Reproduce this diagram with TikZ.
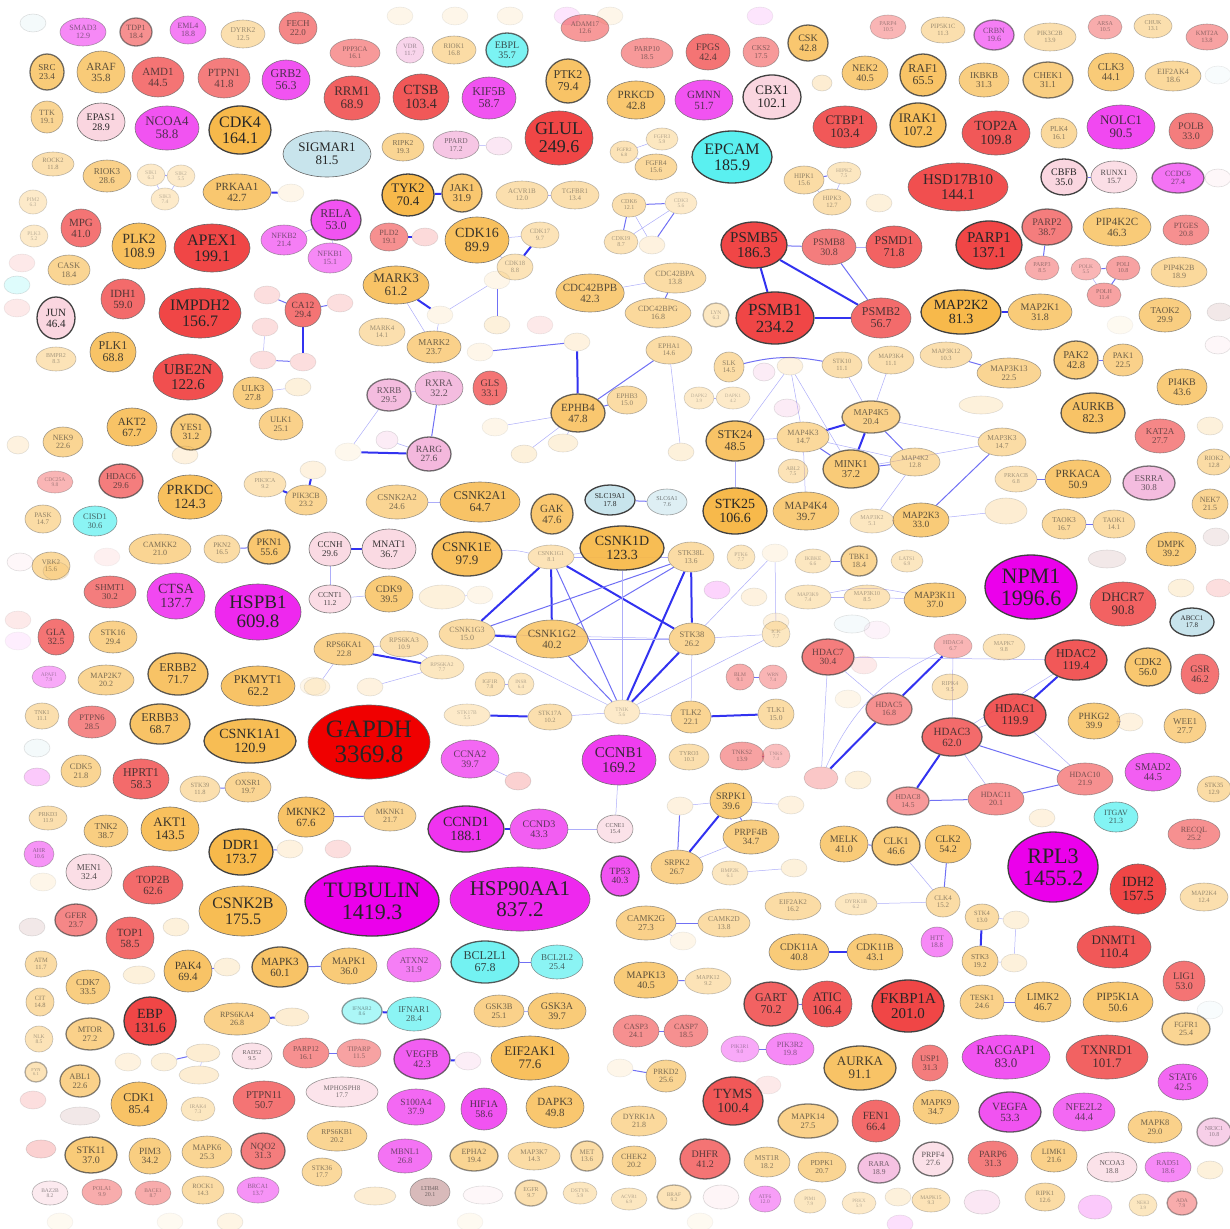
\documentclass[tikz,border=0pt]{standalone}
\usepackage{fontspec}
\setmainfont{Liberation Serif}
\usetikzlibrary{shapes.geometric, backgrounds}

\definecolor{kinC}{RGB}{247,185,75}
\definecolor{redC}{RGB}{240,70,70}
\definecolor{gapC}{RGB}{240,0,0}
\definecolor{magC}{RGB}{238,40,238}
\definecolor{hubC}{RGB}{235,0,235}
\definecolor{cyaC}{RGB}{90,240,240}
\definecolor{lbC}{RGB}{200,228,236}
\definecolor{plC}{RGB}{250,214,224}
\definecolor{pkC}{RGB}{240,160,210}
\definecolor{brC}{RGB}{190,140,140}
\definecolor{edgeC}{RGB}{50,50,240}

\tikzset{
  gene/.style={ellipse, draw=black!60, line width=0.6pt, inner xsep=-3pt, inner ysep=-1pt, align=center, text=black!85},
  g/.style n args={3}{minimum width=#1, minimum height=#2, font=\fontsize{#3}{#3}\selectfont},
  kin/.style={gene, fill=kinC},
  rd/.style={gene, fill=redC},
  mg/.style={gene, fill=magC},
  cy/.style={gene, fill=cyaC},
  lb/.style={gene, fill=lbC},
  pl/.style={gene, fill=plC},
  pk/.style={gene, fill=pkC},
  br/.style={gene, fill=brC},
  bd/.style={draw=black!75, line width=1.3pt},
  op/.style={opacity=#1},
  fnt/.style={minimum width=26, minimum height=18, opacity=.12},
  e1/.style={draw=edgeC!40, line width=0.5pt},
  e2/.style={draw=edgeC!70, line width=1pt},
  e3/.style={draw=edgeC, line width=2pt}
}

\begin{document}
\begin{tikzpicture}[x=1pt, y=-1pt]
  \useasboundingbox (0,0) rectangle (1229,1229);

  % faint top row
  \node[lb, fnt, op=.2] (f1) at (33,23) {};
  \node[kin, fnt] (f2) at (400,16) {};
  \node[kin, fnt] (f3) at (455,16) {};
  \node[kin, fnt] (f4) at (510,16) {};
  \node[mg, fnt] (f5) at (567,16) {};
  \node[kin, fnt] (f6) at (610,16) {};
  \node[mg, fnt] (f7) at (760,16) {};

  % top left block
  \node[mg, g={46}{28}{8}, op=.55] (SMAD3) at (83,32) {SMAD3\\12.9};
  \node[rd, g={32}{28}{8}, op=.6, bd] (TDP1) at (136,32) {TDP1\\18.4};
  \node[mg, g={36}{28}{8}, op=.6] (EML4) at (188,30) {EML4\\18.8};
  \node[kin, g={44}{28}{7.5}, op=.45] (DYRK2) at (243,34) {DYRK2\\12.5};
  \node[rd, g={38}{32}{9}, op=.65] (FECH) at (298,28) {FECH\\22.0};
  \node[kin, g={34}{36}{9}, op=.75, bd] (SRC) at (47,72) {SRC\\23.4};
  \node[kin, g={48}{42}{11}, op=.75] (ARAF) at (101,72) {ARAF\\35.8};
  \node[rd, g={52}{40}{11}, op=.75] (AMD1) at (158,77) {AMD1\\44.5};
  \node[rd, g={52}{40}{11}, op=.7] (PTPN1) at (224,78) {PTPN1\\41.8};
  \node[mg, g={48}{40}{12}, op=.8] (GRB2) at (286,80) {GRB2\\56.3};
  \node[kin, g={32}{32}{8}, op=.6] (TTK) at (47,117) {TTK\\19.1};
  \node[pl, g={48}{38}{10}] (EPAS1) at (101,122) {EPAS1\\28.9};
  \node[mg, g={64}{44}{13}, op=.8] (NCOA4) at (167,128) {NCOA4\\58.8};
  \node[kin, g={62}{48}{16}, bd] (CDK4) at (240,130) {CDK4\\164.1};
  \node[lb, g={88}{46}{13}] (SIGMAR1) at (327,154) {SIGMAR1\\81.5};
  \node[kin, g={42}{24}{6.5}, op=.45] (ROCK2) at (53,164) {ROCK2\\11.8};
  \node[kin, g={48}{32}{9}, op=.65] (RIOK3) at (107,176) {RIOK3\\28.6};
  \node[kin, g={28}{22}{5.5}, op=.3] (SIK1) at (151,175) {SIK1\\6.3};
  \node[kin, g={28}{22}{5.5}, op=.3] (SIK2) at (181,176) {SIK2\\5.5};
  \node[kin, g={28}{22}{5.5}, op=.3] (SIK3) at (165,199) {SIK3\\7.4};
  \node[kin, g={68}{36}{11}, op=.8] (PRKAA1) at (237,192) {PRKAA1\\42.7};
  \node[kin, fnt] (f8) at (291,193) {};
  \node[kin, g={28}{24}{5.5}, op=.3] (PIM2) at (33,202) {PIM2\\6.3};
  \node[rd, g={40}{38}{11}, op=.75] (MPG) at (81,228) {MPG\\41.0};
  \node[kin, g={28}{22}{5.5}, op=.3] (PLK3) at (34,236) {PLK3\\5.2};
  \node[kin, g={54}{46}{14}, op=.9] (PLK2) at (139,246) {PLK2\\108.9};
  \node[rd, g={76}{48}{16}] (APEX1) at (212,248) {APEX1\\199.1};
  \node[mg, g={46}{30}{8}, op=.6] (NFKB2) at (284,240) {NFKB2\\21.4};
  \node[kin, g={42}{30}{8.5}, op=.6] (CASK) at (69,270) {CASK\\18.4};
  \node[rd, fnt] (f9) at (22,263) {};
  \node[cy, fnt, op=.2] (f10) at (17,285) {};
  \node[rd, fnt] (f11) at (17,308) {};
  \node[rd, g={44}{40}{11}, op=.8] (IDH1) at (123,299) {IDH1\\59.0};
  \node[rd, g={82}{50}{16}] (IMPDH2) at (200,313) {IMPDH2\\156.7};
  \node[pl, g={38}{42}{11}, bd] (JUN) at (56,318) {JUN\\46.4};
  \node[kin, g={46}{40}{12}, op=.85] (PLK1) at (113,352) {PLK1\\68.8};
  \node[kin, g={40}{24}{6}, op=.4] (BMPR2) at (56,359) {BMPR2\\8.3};
  \node[rd, g={70}{46}{15}, op=.95] (UBE2N) at (188,377) {UBE2N\\122.6};
  \node[kin, g={40}{32}{9}, op=.7] (ULK3) at (253,393) {ULK3\\27.8};
  \node[kin, fnt, op=.2] (f12) at (298,387) {};

  % top middle block
  \node[rd, g={48}{27}{7}, op=.55] (ADAM17) at (585,28) {ADAM17\\12.6};
  \node[rd, g={50}{28}{7}, op=.55] (PPP3CA) at (355,53) {PPP3CA\\16.1};
  \node[pk, g={28}{26}{6.5}, op=.45] (VDR) at (410,50) {VDR\\11.7};
  \node[kin, g={44}{28}{7}, op=.5] (RIOK1) at (454,50) {RIOK1\\16.8};
  \node[cy, g={42}{34}{10}, op=.8, bd] (EBPL) at (507,50) {EBPL\\35.7};
  \node[rd, g={56}{44}{13}, op=.85] (RRM1) at (352,98) {RRM1\\68.9};
  \node[rd, g={56}{46}{14}, op=.9] (CTSB) at (421,97) {CTSB\\103.4};
  \node[mg, g={54}{42}{12}, op=.8] (KIF5B) at (489,98) {KIF5B\\58.7};
  \node[kin, g={44}{44}{12}, op=.85, bd] (PTK2) at (568,81) {PTK2\\79.4};
  \node[rd, g={68}{54}{18}] (GLUL) at (559,138) {GLUL\\249.6};
  \node[kin, g={42}{28}{7.5}, op=.6] (RIPK2) at (403,147) {RIPK2\\19.3};
  \node[pk, g={46}{28}{7.5}, op=.6] (PPARD) at (456,145) {PPARD\\17.2};
  \node[pk, fnt, op=.25] (f13) at (499,146) {};
  \node[kin, g={52}{42}{13}, bd] (TYK2) at (408,195) {TYK2\\70.4};
  \node[kin, g={40}{38}{10.5}, op=.8, bd] (JAK1) at (462,193) {JAK1\\31.9};
  \node[kin, g={52}{28}{7}, op=.45] (ACVR1B) at (522,195) {ACVR1B\\12.0};
  \node[kin, g={48}{28}{7}, op=.45] (TGFBR1) at (575,195) {TGFBR1\\13.4};
  \node[mg, g={50}{40}{12}, op=.8, bd] (RELA) at (336,220) {RELA\\53.0};
  \node[mg, g={44}{30}{8}, op=.55] (NFKB1) at (330,258) {NFKB1\\15.1};
  \node[rd, g={38}{28}{8}, op=.6] (PLD2) at (389,237) {PLD2\\19.1};
  \node[rd, fnt, op=.2] (f14) at (425,237) {};
  \node[kin, g={64}{46}{14}, op=.9] (CDK16) at (477,240) {CDK16\\89.9};
  \node[kin, g={38}{26}{6.5}, op=.4] (CDK17) at (540,235) {CDK17\\9.7};
  \node[kin, g={36}{26}{6.5}, op=.4] (CDK18) at (515,267) {CDK18\\8.8};
  \node[kin, g={66}{38}{13}, op=.85] (MARK3) at (396,285) {MARK3\\61.2};
  \node[kin, fnt] (f15) at (497,280) {};
  \node[rd, g={36}{34}{9.5}, op=.75] (CA12) at (303,310) {CA12\\29.4};
  \node[rd, fnt, op=.18] (f16) at (340,303) {};
  \node[rd, fnt, op=.18] (f17) at (267,295) {};
  \node[rd, fnt, op=.18] (f18) at (265,327) {};
  \node[rd, fnt, op=.18] (f19) at (263,360) {};
  \node[rd, fnt, op=.18] (f20) at (303,362) {};
  \node[kin, fnt] (f21) at (440,315) {};
  \node[kin, fnt, op=.2] (f22) at (497,325) {};
  \node[rd, fnt] (f23) at (540,325) {};
  \node[kin, g={46}{28}{7}, op=.45] (MARK4) at (382,332) {MARK4\\14.1};
  \node[kin, g={54}{32}{9}, op=.65] (MARK2) at (434,347) {MARK2\\23.7};
  \node[kin, g={68}{38}{11}, op=.75] (CDC42BPB) at (590,293) {CDC42BPB\\42.3};
  \node[kin, fnt, op=.18] (f24) at (577,342) {};
  \node[kin, fnt] (f25) at (480,352) {};
  \node[pk, g={44}{32}{9}, op=.7, bd] (RXRB) at (389,395) {RXRB\\29.5};
  \node[pk, g={48}{34}{10}, op=.7] (RXRA) at (439,388) {RXRA\\32.2};
  \node[rd, g={34}{34}{10}, op=.75] (GLS) at (490,388) {GLS\\33.1};
  \node[kin, g={54}{38}{11}, op=.8, bd] (EPHB4) at (578,413) {EPHB4\\47.8};

  % top right-middle block
  \node[rd, g={52}{30}{7.5}, op=.55] (PARP10) at (647,53) {PARP10\\18.5};
  \node[rd, g={44}{36}{10}, op=.75] (FPGS) at (708,52) {FPGS\\42.4};
  \node[rd, g={36}{30}{7.5}, op=.55] (CKS2) at (761,52) {CKS2\\17.5};
  \node[kin, g={40}{36}{10}, op=.8, bd] (CSK) at (808,43) {CSK\\42.8};
  \node[rd, g={36}{24}{6}, op=.4] (PARP4) at (888,27) {PARP4\\10.5};
  \node[kin, g={58}{38}{11}, op=.8] (PRKCD) at (636,100) {PRKCD\\42.8};
  \node[mg, g={58}{40}{11}, op=.8] (GMNN) at (704,100) {GMNN\\51.7};
  \node[pl, g={58}{44}{13}, bd] (CBX1) at (772,97) {CBX1\\102.1};
  \node[kin, g={46}{34}{10}, op=.75] (NEK2) at (865,73) {NEK2\\40.5};
  \node[kin, fnt, op=.25, minimum width=20, minimum height=16] (f26) at (822,83) {};
  \node[rd, g={64}{42}{13}, op=.9] (CTBP1) at (845,127) {CTBP1\\103.4};
  \node[cy, g={80}{52}{16}, bd] (EPCAM) at (732,157) {EPCAM\\185.9};
  \node[kin, g={28}{22}{5}, op=.4] (FGFR2) at (624,152) {FGFR2\\6.8};
  \node[kin, g={32}{22}{5.5}, op=.35] (FGFR3) at (662,139) {FGFR3\\5.9};
  \node[kin, g={42}{26}{7}, op=.55] (FGFR4) at (656,167) {FGFR4\\15.6};
  \node[kin, g={40}{28}{7}, op=.5] (HIPK1) at (804,180) {HIPK1\\15.6};
  \node[kin, g={34}{22}{5.5}, op=.35] (HIPK2) at (844,173) {HIPK2\\7.5};
  \node[kin, g={38}{26}{6.5}, op=.45] (HIPK3) at (832,202) {HIPK3\\12.7};
  \node[kin, fnt, op=.2] (f27) at (879,203) {};
  \node[kin, g={34}{24}{6}, op=.45] (CDK6) at (629,205) {CDK6\\12.1};
  \node[kin, g={32}{22}{5.5}, op=.3] (CDK3) at (681,203) {CDK3\\5.6};
  \node[kin, g={34}{24}{6}, op=.4] (CDK19) at (621,242) {CDK19\\8.7};
  \node[kin, fnt, op=.18] (f28) at (652,245) {};
  \node[rd, g={66}{46}{15}, bd] (PSMB5) at (754,245) {PSMB5\\186.3};
  \node[rd, g={54}{36}{10}, op=.7] (PSMB8) at (829,247) {PSMB8\\30.8};
  \node[rd, g={56}{42}{12}, op=.85] (PSMD1) at (894,247) {PSMD1\\71.8};
  \node[rd, g={78}{52}{17}, bd] (PSMB1) at (775,318) {PSMB1\\234.2};
  \node[rd, g={60}{40}{12}, op=.8] (PSMB2) at (881,318) {PSMB2\\56.7};
  \node[kin, g={62}{30}{8}, op=.5] (CDC42BPA) at (675,278) {CDC42BPA\\13.8};
  \node[kin, g={66}{30}{8}, op=.55] (CDC42BPG) at (658,313) {CDC42BPG\\16.8};
  \node[kin, g={26}{24}{5.5}, op=.35, bd] (LYN) at (716,315) {LYN\\6.3};
  \node[kin, g={46}{28}{7}, op=.5] (EPHA1) at (669,350) {EPHA1\\14.6};
  \node[kin, g={30}{30}{7}, op=.5] (SLK) at (729,367) {SLK\\14.5};
  \node[pk, fnt, op=.2, minimum width=22] (f29) at (764,372) {};
  \node[kin, fnt, op=.18] (f30) at (790,366) {};
  \node[kin, g={40}{26}{6.5}, op=.45] (STK10) at (842,365) {STK10\\11.1};
  \node[kin, g={46}{28}{6.5}, op=.45] (MAP3K4) at (891,360) {MAP3K4\\11.1};
  \node[kin, g={40}{28}{7}, op=.5] (EPHB3) at (627,400) {EPHB3\\15.0};
  \node[kin, g={30}{22}{5}, op=.3] (DAPK2) at (699,398) {DAPK2\\3.9};
  \node[kin, g={34}{22}{5}, op=.3] (DAPK1) at (733,398) {DAPK1\\4.2};
  \node[pk, fnt, op=.2] (f31) at (787,408) {};

  % top right block
  \node[kin, g={44}{26}{6.5}, op=.45] (PIP5K1C) at (943,30) {PIP5K1C\\11.3};
  \node[mg, g={40}{30}{8}, op=.6, bd] (CRBN) at (994,35) {CRBN\\19.6};
  \node[kin, g={52}{28}{6.5}, op=.45] (PIK3C2B) at (1050,37) {PIK3C2B\\13.9};
  \node[rd, g={34}{24}{6}, op=.45] (ARSA) at (1105,27) {ARSA\\10.5};
  \node[kin, g={38}{24}{6}, op=.45] (CHUK) at (1153,26) {CHUK\\13.1};
  \node[rd, g={42}{26}{6.5}, op=.5] (KMT2A) at (1207,37) {KMT2A\\13.8};
  \node[kin, g={46}{42}{12}, op=.85, bd] (RAF1) at (923,75) {RAF1\\65.5};
  \node[kin, g={50}{34}{9}, op=.7] (IKBKB) at (984,80) {IKBKB\\31.3};
  \node[kin, g={50}{36}{9}, op=.7, bd] (CHEK1) at (1048,80) {CHEK1\\31.1};
  \node[kin, g={46}{38}{10.5}, op=.75] (CLK3) at (1111,72) {CLK3\\44.1};
  \node[kin, g={56}{30}{8}, op=.55] (EIF2AK4) at (1173,76) {EIF2AK4\\18.6};
  \node[lb, fnt] (f32) at (1218,75) {};
  \node[kin, g={56}{44}{13}, op=.9, bd] (IRAK1) at (918,125) {IRAK1\\107.2};
  \node[rd, g={68}{44}{14}, op=.9] (TOP2A) at (996,133) {TOP2A\\109.8};
  \node[kin, g={36}{30}{7.5}, op=.55] (PLK4) at (1059,133) {PLK4\\16.1};
  \node[mg, g={68}{44}{13}, op=.85] (NOLC1) at (1121,127) {NOLC1\\90.5};
  \node[rd, g={44}{36}{10}, op=.7] (POLB) at (1191,131) {POLB\\33.0};
  \node[rd, g={100}{48}{15}, op=.95] (HSD17B10) at (958,187) {HSD17B10\\144.1};
  \node[pl, g={46}{36}{10}, bd] (CBFB) at (1064,177) {CBFB\\35.0};
  \node[pl, g={46}{32}{8}, op=.8] (RUNX1) at (1114,177) {RUNX1\\15.7};
  \node[mg, g={52}{30}{8}, op=.65, bd] (CCDC6) at (1178,178) {CCDC6\\27.4};
  \node[pl, fnt, op=.2] (f33) at (1218,178) {};
  \node[rd, g={66}{48}{15}, bd] (PARP1) at (989,245) {PARP1\\137.1};
  \node[rd, g={50}{36}{10}, op=.7, bd] (PARP2) at (1047,227) {PARP2\\38.7};
  \node[rd, g={34}{24}{6}, op=.45] (PARP3) at (1042,268) {PARP3\\8.5};
  \node[kin, g={68}{38}{11}, op=.75] (PIP4K2C) at (1117,227) {PIP4K2C\\46.3};
  \node[rd, g={46}{30}{8}, op=.6] (PTGES) at (1186,230) {PTGES\\20.8};
  \node[rd, g={30}{22}{5.5}, op=.4] (POLK) at (1086,269) {POLK\\5.5};
  \node[rd, g={34}{24}{6}, op=.5] (POLI) at (1123,268) {POLI\\10.8};
  \node[rd, g={34}{24}{6}, op=.5] (POLH) at (1104,295) {POLH\\11.4};
  \node[kin, g={56}{30}{8}, op=.55] (PIP4K2B) at (1179,272) {PIP4K2B\\18.9};
  \node[kin, g={80}{44}{14}, bd] (MAP2K2) at (961,312) {MAP2K2\\81.3};
  \node[kin, g={64}{36}{10}, op=.75] (MAP2K1) at (1040,312) {MAP2K1\\31.8};
  \node[kin, g={52}{34}{9}, op=.7] (TAOK2) at (1165,315) {TAOK2\\29.9};
  \node[br, fnt, op=.2] (f34) at (1220,312) {};
  \node[kin, fnt, op=.08] (f35) at (1120,325) {};
  \node[kin, g={52}{26}{6.5}, op=.45] (MAP3K12) at (946,355) {MAP3K12\\10.3};
  \node[kin, g={64}{30}{8.5}, op=.6] (MAP3K13) at (1009,373) {MAP3K13\\22.5};
  \node[kin, g={44}{38}{10.5}, op=.75, bd] (PAK2) at (1076,360) {PAK2\\42.8};
  \node[kin, g={40}{32}{8.5}, op=.65] (PAK1) at (1123,360) {PAK1\\22.5};
  \node[kin, g={50}{36}{10}, op=.75] (PI4KB) at (1182,387) {PI4KB\\43.6};
  \node[pl, fnt, op=.2] (f36) at (1218,345) {};
  \node[kin, fnt, op=.2, minimum width=44] (f37) at (981,405) {};
  \node[kin, g={64}{40}{12}, op=.85, bd] (AURKB) at (1093,413) {AURKB\\82.3};

  % middle left block
  \node[kin, g={50}{38}{11}, op=.85] (AKT2) at (132,427) {AKT2\\67.7};
  \node[kin, g={40}{36}{9.5}, op=.75, bd] (YES1) at (191,432) {YES1\\31.2};
  \node[kin, g={44}{32}{8.5}, op=.65] (ULK1) at (281,424) {ULK1\\25.1};
  \node[kin, g={40}{30}{8}, op=.6] (NEK9) at (63,442) {NEK9\\22.6};
  \node[kin, fnt, op=.18, minimum width=22] (f38) at (18,445) {};
  \node[kin, fnt, op=.18] (f39) at (185,455) {};
  \node[rd, g={36}{22}{5.5}, op=.4] (CDC25A) at (55,482) {CDC25A\\9.8};
  \node[rd, g={44}{34}{9}, op=.7, bd] (HDAC6) at (121,481) {HDAC6\\29.6};
  \node[kin, g={64}{44}{14}, op=.9] (PRKDC) at (190,497) {PRKDC\\124.3};
  \node[kin, g={42}{26}{6}, op=.4] (PIK3CA) at (265,484) {PIK3CA\\9.2};
  \node[kin, g={42}{30}{8}, op=.6] (PIK3CB) at (306,500) {PIK3CB\\23.2};
  \node[kin, fnt, op=.18] (f40) at (313,470) {};
  \node[kin, g={36}{28}{7}, op=.5] (PASK) at (43,519) {PASK\\14.7};
  \node[cy, g={44}{30}{8.5}, op=.7] (CISD1) at (95,521) {CISD1\\30.6};
  \node[kin, g={62}{30}{8}, op=.6] (CAMKK2) at (160,549) {CAMKK2\\21.0};
  \node[kin, g={36}{28}{7}, op=.5] (PKN2) at (222,549) {PKN2\\16.5};
  \node[kin, g={42}{34}{10}, op=.8, bd] (PKN1) at (269,547) {PKN1\\55.6};
  \node[rd, fnt, op=.08] (f41) at (107,557) {};
  \node[kin, g={38}{28}{7}, op=.55] (VRK2) at (51,566) {VRK2\\15.6};
  \node[rd, g={52}{32}{9}, op=.7] (SHMT1) at (110,592) {SHMT1\\30.2};
  \node[mg, g={58}{46}{14}, op=.85] (CTSA) at (176,596) {CTSA\\137.7};
  \node[mg, g={86}{56}{19}] (HSPB1) at (258,612) {HSPB1\\609.8};
  \node[pl, fnt, op=.2] (f42) at (20,562) {};
  \node[kin, fnt, op=.2] (f43) at (56,571) {};
  \node[rd, fnt] (f44) at (18,620) {};
  \node[mg, fnt, op=.08] (f45) at (18,641) {};
  \node[rd, g={36}{36}{9.5}, op=.75] (GLA) at (56,637) {GLA\\32.5};
  \node[kin, g={48}{32}{8.5}, op=.65] (STK16) at (113,637) {STK16\\29.4};
  \node[kin, g={60}{42}{12}, op=.85, bd] (ERBB2) at (178,674) {ERBB2\\71.7};
  \node[mg, g={34}{22}{5.5}, op=.4] (APAF1) at (49,677) {APAF1\\7.9};
  \node[kin, g={56}{30}{8}, op=.6] (MAP2K7) at (106,680) {MAP2K7\\20.2};
  \node[kin, g={74}{40}{12}, op=.85] (PKMYT1) at (258,686) {PKMYT1\\62.2};
  \node[kin, fnt] (f46) at (313,686) {};
  \node[kin, g={34}{26}{6}, op=.45] (TNK1) at (42,716) {TNK1\\11.1};
  \node[rd, g={48}{32}{8.5}, op=.65] (PTPN6) at (92,722) {PTPN6\\28.5};
  \node[kin, g={60}{40}{12}, op=.85, bd] (ERBB3) at (160,724) {ERBB3\\68.7};
  \node[kin, g={92}{44}{14}, op=.95, bd] (CSNK1A1) at (250,741) {CSNK1A1\\120.9};
  \node[lb, fnt, op=.2] (f47) at (37,748) {};
  \node[kin, g={40}{32}{8.5}, op=.6] (CDK5) at (81,771) {CDK5\\21.8};
  \node[rd, g={56}{40}{12}, op=.8] (HPRT1) at (141,779) {HPRT1\\58.3};
  \node[mg, fnt, op=.25] (f48) at (37,777) {};
  \node[kin, g={40}{26}{6.5}, op=.45] (STK39) at (200,789) {STK39\\11.8};
  \node[kin, g={46}{30}{8}, op=.6] (OXSR1) at (248,787) {OXSR1\\19.7};
  \node[kin, g={38}{24}{6}, op=.45] (PRKD3) at (48,818) {PRKD3\\11.9};

  % centre
  \node[pk, g={44}{34}{9.5}, op=.75, bd] (RARG) at (429,454) {RARG\\27.6};
  \node[pk, fnt, op=.2, minimum width=22] (f49) at (387,440) {};
  \node[kin, fnt, op=.1] (f50) at (348,452) {};
  \node[kin, fnt] (f51) at (495,427) {};
  \node[kin, fnt, op=.2] (f52) at (524,454) {};
  \node[kin, fnt, op=.2, minimum width=30] (f53) at (563,443) {};
  \node[kin, g={62}{34}{9}, op=.6] (CSNK2A2) at (397,502) {CSNK2A2\\24.6};
  \node[kin, g={80}{40}{12}, op=.85] (CSNK2A1) at (480,502) {CSNK2A1\\64.7};
  \node[kin, g={42}{40}{11}, op=.8, bd] (GAK) at (552,514) {GAK\\47.6};
  \node[lb, g={50}{30}{7.5}, bd] (SLC19A1) at (610,500) {SLC19A1\\17.8};
  \node[lb, g={40}{26}{6}, op=.6] (SLC6A1) at (667,502) {SLC6A1\\7.6};
  \node[pl, g={42}{34}{9}, op=.9] (CCNH) at (330,549) {CCNH\\29.6};
  \node[pl, g={54}{40}{10}, op=.9] (MNAT1) at (389,549) {MNAT1\\36.7};
  \node[kin, g={70}{44}{13}, op=.9, bd] (CSNK1E) at (467,554) {CSNK1E\\97.9};
  \node[kin, g={46}{24}{6}, op=.4] (CSNK1G1) at (551,557) {CSNK1G1\\8.1};
  \node[kin, g={84}{44}{14}, op=.95, bd] (CSNK1D) at (622,548) {CSNK1D\\123.3};
  \node[pl, g={42}{28}{7.5}, op=.85] (CCNT1) at (330,599) {CCNT1\\11.2};
  \node[kin, g={48}{36}{10}, op=.75] (CDK9) at (389,594) {CDK9\\39.5};
  \node[kin, fnt, op=.2, minimum width=46, minimum height=24] (f54) at (442,597) {};
  \node[kin, fnt] (f55) at (480,595) {};
  \node[kin, g={56}{30}{8}, op=.5] (CSNK1G3) at (467,634) {CSNK1G3\\15.0};
  \node[kin, g={72}{38}{11}, op=.75] (CSNK1G2) at (552,639) {CSNK1G2\\40.2};
  \node[kin, g={60}{32}{8.5}, op=.65] (RPS6KA1) at (344,649) {RPS6KA1\\22.8};
  \node[kin, g={48}{26}{7}, op=.45] (RPS6KA3) at (404,644) {RPS6KA3\\10.9};
  \node[kin, g={44}{24}{5.5}, op=.35] (RPS6KA2) at (442,667) {RPS6KA2\\7.7};
  \node[kin, fnt, op=.18] (f56) at (317,687) {};
  \node[kin, fnt, op=.18] (f57) at (370,687) {};
  \node[kin, g={30}{24}{5.5}, op=.4] (IGF1R) at (490,684) {IGF1R\\7.8};
  \node[kin, g={26}{22}{5}, op=.35] (INSR) at (521,684) {INSR\\6.4};
  \node[kin, g={46}{22}{5.5}, op=.3] (STK17B) at (467,715) {STK17B\\5.5};
  \node[kin, g={44}{26}{6.5}, op=.45] (STK17A) at (550,717) {STK17A\\10.2};
  \node[gene, fill=gapC, g={122}{74}{25}] (GAPDH) at (369,742) {GAPDH\\3369.8};
  \node[mg, g={58}{38}{10}, op=.7] (CCNA2) at (470,759) {CCNA2\\39.7};
  \node[rd, fnt, op=.25] (f58) at (518,781) {};
  \node[mg, g={74}{50}{15}, op=.9] (CCNB1) at (619,760) {CCNB1\\169.2};
  \node[kin, g={56}{40}{11}, op=.85] (MKNK2) at (306,817) {MKNK2\\67.6};
  \node[kin, g={52}{30}{8}, op=.6] (MKNK1) at (390,816) {MKNK1\\21.7};
  \node[mg, g={76}{46}{14}, op=.95, bd] (CCND1) at (466,829) {CCND1\\188.1};
  \node[mg, g={58}{40}{10}, op=.75] (CCND3) at (539,829) {CCND3\\43.3};
  \node[pl, g={36}{28}{6}, op=.7] (CCNE1) at (615,829) {CCNE1\\15.4};

  % centre right
  \node[kin, g={58}{40}{12}, op=.85, bd] (STK24) at (735,441) {STK24\\48.5};
  \node[kin, g={52}{30}{8}, op=.55] (MAP4K3) at (803,437) {MAP4K3\\14.7};
  \node[kin, g={58}{32}{9}, op=.65, bd] (MAP4K5) at (871,417) {MAP4K5\\20.4};
  \node[kin, g={56}{38}{10.5}, op=.75, bd] (MINK1) at (851,469) {MINK1\\37.2};
  \node[kin, g={50}{28}{7}, op=.5] (MAP4K2) at (915,462) {MAP4K2\\12.8};
  \node[kin, g={30}{24}{5.5}, op=.4] (ABL2) at (793,471) {ABL2\\7.5};
  \node[kin, fnt, op=.2] (f59) at (681,452) {};
  \node[kin, g={64}{46}{14}, bd] (STK25) at (735,511) {STK25\\106.6};
  \node[kin, g={66}{38}{11}, op=.75] (MAP4K4) at (806,511) {MAP4K4\\39.7};
  \node[kin, g={44}{24}{6}, op=.35] (MAP3K2) at (872,521) {MAP3K2\\5.1};
  \node[kin, g={56}{34}{9.5}, op=.75] (MAP2K3) at (921,520) {MAP2K3\\33.0};
  \node[kin, g={46}{30}{7.5}, op=.5] (STK38L) at (691,557) {STK38L\\13.6};
  \node[kin, g={28}{24}{5.5}, op=.35] (PTK6) at (741,557) {PTK6\\7.7};
  \node[kin, fnt] (f60) at (775,553) {};
  \node[kin, g={36}{24}{5.5}, op=.35] (IKBKE) at (813,561) {IKBKE\\6.6};
  \node[kin, g={36}{30}{8}, op=.6, bd] (TBK1) at (859,561) {TBK1\\18.4};
  \node[kin, g={32}{22}{5.5}, op=.35] (LATS1) at (907,561) {LATS1\\6.9};
  \node[mg, fnt, op=.2] (f61) at (717,590) {};
  \node[kin, fnt, op=.18] (f62) at (754,597) {};
  \node[kin, g={46}{24}{5.5}, op=.35] (MAP3K9) at (808,597) {MAP3K9\\7.4};
  \node[kin, g={46}{24}{6}, op=.4] (MAP3K10) at (867,597) {MAP3K10\\8.5};
  \node[kin, g={62}{34}{9.5}, op=.75] (MAP3K11) at (935,600) {MAP3K11\\37.0};
  \node[kin, fnt, op=.18] (f63) at (776,622) {};
  \node[lb, fnt, op=.18, minimum width=36] (f64) at (852,624) {};
  \node[pk, fnt] (f65) at (877,630) {};
  \node[kin, g={46}{32}{8.5}, op=.6] (STK38) at (692,639) {STK38\\26.2};
  \node[kin, g={28}{26}{5.5}, op=.35] (ICK) at (776,634) {ICK\\7.7};
  \node[rd, g={52}{36}{9.5}, op=.7, bd] (HDAC7) at (828,657) {HDAC7\\30.4};
  \node[rd, fnt] (f66) at (864,665) {};
  \node[rd, g={28}{26}{5.5}, op=.45] (BLM) at (740,677) {BLM\\9.1};
  \node[rd, g={28}{24}{5}, op=.4] (WRN) at (773,677) {WRN\\7.4};
  \node[kin, g={36}{24}{5.5}, op=.3] (TNIK) at (622,712) {TNIK\\5.6};
  \node[kin, g={40}{32}{8.5}, op=.6] (TLK2) at (691,717) {TLK2\\22.1};
  \node[kin, g={36}{30}{7.5}, op=.5] (TLK1) at (776,714) {TLK1\\15.0};
  \node[kin, fnt] (f67) at (848,699) {};
  \node[rd, g={46}{32}{8}, op=.6, bd] (HDAC5) at (889,709) {HDAC5\\16.8};
  \node[kin, g={40}{26}{6}, op=.45] (TYRO3) at (689,757) {TYRO3\\10.3};
  \node[rd, g={44}{28}{6.5}, op=.5] (TNKS2) at (742,756) {TNKS2\\13.9};
  \node[rd, g={28}{24}{5}, op=.35] (TNKS) at (776,756) {TNKS\\7.4};
  \node[rd, fnt, op=.3, minimum width=34, minimum height=22] (f68) at (821,778) {};
  \node[kin, fnt, op=.2] (f69) at (858,780) {};
  \node[kin, g={42}{36}{10}, op=.75] (SRPK1) at (731,801) {SRPK1\\39.6};
  \node[kin, fnt, op=.18] (f70) at (680,806) {};
  \node[kin, fnt, op=.18] (f71) at (791,805) {};
  \node[rd, g={42}{28}{7.5}, op=.55, bd] (HDAC8) at (908,801) {HDAC8\\14.5};

  % right middle
  \node[rd, g={60}{38}{11}, op=.8, bd] (HDAC3) at (952,737) {HDAC3\\62.0};
  \node[rd, g={62}{40}{12}, op=.9, bd] (HDAC2) at (1076,660) {HDAC2\\119.4};
  \node[rd, g={62}{42}{12}, op=.9, bd] (HDAC1) at (1015,715) {HDAC1\\119.9};
  \node[rd, g={38}{24}{6}, op=.4] (HDAC4) at (953,646) {HDAC4\\6.7};
  \node[kin, g={42}{26}{6}, op=.4] (MAPK7) at (1004,647) {MAPK7\\9.8};
  \node[kin, g={36}{26}{6}, op=.4] (RIPK4) at (950,687) {RIPK4\\9.5};
  \node[kin, g={52}{36}{9.5}, op=.75] (PHKG2) at (1094,721) {PHKG2\\39.9};
  \node[kin, fnt, op=.18] (f72) at (1130,722) {};
  \node[kin, g={42}{34}{9}, op=.65] (WEE1) at (1185,726) {WEE1\\27.7};
  \node[kin, g={46}{38}{10.5}, op=.8, bd] (CDK2) at (1148,667) {CDK2\\56.0};
  \node[rd, g={38}{40}{10}, op=.75] (GSR) at (1200,674) {GSR\\46.2};
  \node[gene, fill=hubC, g={92}{64}{22}, bd] (NPM1) at (1031,587) {NPM1\\1996.6};
  \node[rd, g={66}{44}{13}, op=.85] (DHCR7) at (1123,604) {DHCR7\\90.8};
  \node[lb, g={44}{28}{7}, bd] (ABCC1) at (1192,622) {ABCC1\\17.8};
  \node[kin, fnt, op=.2] (f73) at (1181,588) {};
  \node[rd, fnt, op=.18] (f74) at (1219,588) {};
  \node[kin, g={50}{34}{9.5}, op=.75] (DMPK) at (1171,549) {DMPK\\39.2};
  \node[br, fnt, op=.18] (f75) at (1216,537) {};
  \node[br, fnt, op=.2, minimum width=38] (f76) at (1107,559) {};
  \node[kin, g={44}{30}{7.5}, op=.55] (TAOK3) at (1064,524) {TAOK3\\16.7};
  \node[kin, g={42}{28}{7}, op=.5] (TAOK1) at (1114,524) {TAOK1\\14.1};
  \node[kin, fnt, op=.25, minimum width=42, minimum height=26] (f77) at (1006,511) {};
  \node[kin, g={42}{26}{6}, op=.4] (PRKACB) at (1016,479) {PRKACB\\6.8};
  \node[kin, g={66}{38}{11}, op=.8] (PRKACA) at (1078,479) {PRKACA\\50.9};
  \node[pk, g={52}{34}{9}, op=.7, bd] (ESRRA) at (1149,483) {ESRRA\\30.8};
  \node[kin, g={36}{30}{8}, op=.6] (NEK7) at (1210,504) {NEK7\\21.5};
  \node[rd, g={50}{34}{9}, op=.65] (KAT2A) at (1160,436) {KAT2A\\27.7};
  \node[kin, g={34}{26}{6.5}, op=.5] (RIOK2) at (1214,462) {RIOK2\\12.8};
  \node[kin, fnt, op=.2] (f78) at (1210,426) {};
  \node[kin, g={48}{28}{7.5}, op=.5] (MAP3K3) at (1002,442) {MAP3K3\\14.7};
  \node[mg, g={56}{38}{10.5}, op=.75] (SMAD2) at (1153,772) {SMAD2\\44.5};
  \node[rd, g={56}{32}{8}, op=.6] (HDAC10) at (1085,779) {HDAC10\\21.9};
  \node[rd, g={56}{32}{8}, op=.6] (HDAC11) at (996,799) {HDAC11\\20.1};
  \node[kin, g={34}{26}{6.5}, op=.5] (STK35) at (1214,789) {STK35\\12.9};
  \node[cy, g={44}{30}{8}, op=.75] (ITGAV) at (1116,817) {ITGAV\\21.3};
  \node[kin, fnt, op=.18] (f79) at (1042,818) {};
  \node[rd, g={52}{30}{8}, op=.6] (RECQL) at (1194,834) {RECQL\\25.2};

  % bottom left block
  \node[kin, g={44}{32}{9}, op=.7] (TNK2) at (106,831) {TNK2\\38.7};
  \node[kin, g={58}{44}{13}, op=.9] (AKT1) at (170,829) {AKT1\\143.5};
  \node[kin, g={64}{46}{14}, bd] (DDR1) at (241,852) {DDR1\\173.7};
  \node[kin, fnt, op=.18] (f80) at (290,849) {};
  \node[mg, g={30}{26}{6}, op=.5] (AHR) at (39,854) {AHR\\10.6};
  \node[pl, g={46}{36}{9}, op=.8] (MEN1) at (89,872) {MEN1\\32.4};
  \node[rd, g={60}{38}{11}, op=.8] (TOP2B) at (153,885) {TOP2B\\62.6};
  \node[kin, fnt] (f81) at (43,882) {};
  \node[kin, g={88}{50}{16}, op=.95] (CSNK2B) at (243,911) {CSNK2B\\175.5};
  \node[rd, g={42}{32}{8.5}, op=.65, bd] (GFER) at (76,920) {GFER\\23.7};
  \node[rd, g={48}{42}{11}, op=.8] (TOP1) at (130,938) {TOP1\\58.5};
  \node[kin, fnt, op=.2] (f82) at (176,927) {};
  \node[br, fnt, op=.2] (f83) at (32,927) {};
  \node[kin, g={32}{26}{6.5}, op=.5] (ATM) at (41,964) {ATM\\11.7};
  \node[kin, g={44}{34}{9}, op=.7] (CDK7) at (88,987) {CDK7\\33.5};
  \node[kin, fnt, op=.2, minimum width=32] (f84) at (139,975) {};
  \node[kin, g={48}{42}{11}, op=.85] (PAK4) at (188,971) {PAK4\\69.4};
  \node[kin, fnt, op=.2] (f85) at (227,967) {};
  \node[kin, g={56}{40}{11}, op=.85, bd] (MAPK3) at (280,967) {MAPK3\\60.1};
  \node[kin, g={28}{28}{6.5}, op=.5] (CIT) at (40,1002) {CIT\\14.8};
  \node[rd, g={52}{48}{14}, bd] (EBP) at (150,1021) {EBP\\131.6};
  \node[kin, g={66}{32}{8}, op=.65] (RPS6KA4) at (237,1019) {RPS6KA4\\26.8};
  \node[kin, fnt, op=.25, minimum width=34] (f86) at (292,1017) {};
  \node[kin, g={48}{32}{8.5}, op=.65, bd] (MTOR) at (90,1034) {MTOR\\27.2};
  \node[kin, g={28}{26}{5.5}, op=.4] (NLK) at (39,1039) {NLK\\8.5};
  \node[kin, fnt, op=.18] (f87) at (128,1062) {};
  \node[kin, fnt, op=.2] (f88) at (164,1062) {};
  \node[kin, fnt, op=.25, minimum width=34] (f89) at (203,1053) {};
  \node[kin, fnt, op=.25, minimum width=40] (f90) at (199,1075) {};
  \node[pl, g={40}{26}{6}, op=.7] (RAD52) at (252,1056) {RAD52\\9.5};
  \node[rd, g={46}{30}{7.5}, op=.6] (PARP12) at (306,1053) {PARP12\\16.1};
  \node[rd, g={44}{28}{7}, op=.5] (TIPARP) at (359,1053) {TIPARP\\11.5};
  \node[kin, g={40}{32}{8.5}, op=.65, bd] (ABL1) at (80,1081) {ABL1\\22.6};
  \node[kin, g={22}{20}{4.5}, op=.4, bd] (FYN) at (36,1072) {FYN\\6.1};
  \node[rd, fnt, op=.18] (f91) at (33,1100) {};
  \node[kin, g={56}{44}{12}, op=.85] (CDK1) at (139,1104) {CDK1\\85.4};
  \node[kin, g={34}{24}{5.5}, op=.35] (IRAK4) at (198,1109) {IRAK4\\7.3};
  \node[rd, g={62}{38}{10.5}, op=.75] (PTPN11) at (264,1100) {PTPN11\\50.7};
  \node[br, fnt, op=.2, minimum width=40] (f92) at (80,1116) {};
  \node[rd, fnt, op=.25, minimum width=30] (f93) at (41,1149) {};
  \node[kin, g={52}{36}{10}, op=.75, bd] (STK11) at (91,1155) {STK11\\37.0};
  \node[kin, g={42}{36}{9.5}, op=.7] (PIM3) at (150,1156) {PIM3\\34.2};
  \node[kin, g={50}{32}{8.5}, op=.6] (MAPK6) at (207,1152) {MAPK6\\25.3};
  \node[rd, g={44}{36}{9.5}, op=.7, bd] (NQO2) at (263,1151) {NQO2\\31.3};
  \node[pl, g={36}{24}{5.5}, op=.5] (BAZ2B) at (50,1193) {BAZ2B\\8.2};
  \node[rd, g={40}{26}{6}, op=.45] (POLA1) at (102,1192) {POLA1\\9.9};
  \node[rd, g={36}{24}{5.5}, op=.45] (BACE1) at (153,1193) {BACE1\\8.7};
  \node[kin, g={42}{28}{6.5}, op=.5] (ROCK1) at (203,1190) {ROCK1\\14.3};
  \node[mg, g={42}{26}{6.5}, op=.5] (BRCA1) at (258,1190) {BRCA1\\13.7};

  % bottom middle block
  \node[gene, fill=hubC, g={134}{70}{22}, bd] (TUBULIN) at (372,901) {TUBULIN\\1419.3};
  \node[mg, g={140}{64}{21}] (HSP90AA1) at (520,899) {HSP90AA1\\837.2};
  \node[rd, fnt, op=.18] (f94) at (338,849) {};
  \node[kin, g={56}{36}{10}, op=.75] (MAPK1) at (349,966) {MAPK1\\36.0};
  \node[mg, g={54}{34}{9}, op=.6] (ATXN2) at (414,965) {ATXN2\\31.9};
  \node[cy, g={68}{42}{12}, op=.85, bd] (BCL2L1) at (485,962) {BCL2L1\\67.8};
  \node[cy, g={52}{34}{9}, op=.7] (BCL2L2) at (557,962) {BCL2L2\\25.4};
  \node[cy, g={40}{26}{5.5}, op=.5, bd] (IFNAR2) at (362,1011) {IFNAR2\\8.6};
  \node[cy, g={54}{34}{9}, op=.7] (IFNAR1) at (414,1014) {IFNAR1\\28.4};
  \node[kin, g={50}{32}{8.5}, op=.65] (GSK3B) at (499,1011) {GSK3B\\25.1};
  \node[kin, g={58}{36}{10}, op=.75] (GSK3A) at (557,1011) {GSK3A\\39.7};
  \node[mg, g={56}{40}{10}, op=.75, bd] (VEGFB) at (422,1059) {VEGFB\\42.3};
  \node[pk, fnt, op=.18] (f95) at (468,1061) {};
  \node[kin, g={78}{44}{13}, op=.9] (EIF2AK1) at (530,1058) {EIF2AK1\\77.6};
  \node[pl, g={72}{30}{7}, op=.65] (MPHOSPH8) at (342,1092) {MPHOSPH8\\17.7};
  \node[mg, g={58}{36}{9.5}, op=.7] (S100A4) at (416,1107) {S100A4\\37.9};
  \node[mg, g={46}{42}{10}, op=.8] (HIF1A) at (484,1109) {HIF1A\\58.6};
  \node[kin, g={58}{42}{11}, op=.8] (DAPK3) at (555,1107) {DAPK3\\49.8};
  \node[kin, g={60}{30}{7.5}, op=.6] (RPS6KB1) at (337,1136) {RPS6KB1\\20.2};
  \node[kin, g={40}{28}{7}, op=.55] (STK36) at (322,1172) {STK36\\17.7};
  \node[mg, g={54}{34}{8.5}, op=.65] (MBNL1) at (405,1156) {MBNL1\\26.8};
  \node[kin, g={48}{30}{8}, op=.6, bd] (EPHA2) at (474,1156) {EPHA2\\19.4};
  \node[kin, g={52}{28}{7}, op=.5] (MAP3K7) at (534,1156) {MAP3K7\\14.3};
  \node[kin, g={32}{30}{7}, op=.5, bd] (MET) at (587,1156) {MET\\13.6};
  \node[kin, fnt, op=.25, minimum width=42] (f96) at (375,1196) {};
  \node[br, g={40}{28}{6}, op=.6] (LTB4R) at (430,1192) {LTB4R\\20.1};
  \node[pl, fnt, op=.2, minimum width=40] (f97) at (483,1195) {};
  \node[kin, g={32}{26}{6}, op=.45, bd] (EGFR) at (531,1193) {EGFR\\9.7};
  \node[kin, g={34}{22}{5.5}, op=.35] (DSTYK) at (580,1193) {DSTYK\\5.9};

  % bottom right-middle block
  \node[kin, g={52}{34}{8.5}, op=.65] (SRPK2) at (677,867) {SRPK2\\26.7};
  \node[kin, g={56}{34}{9.5}, op=.7] (PRPF4B) at (751,837) {PRPF4B\\34.7};
  \node[kin, g={36}{24}{5.5}, op=.35] (BMP2K) at (730,873) {BMP2K\\6.1};
  \node[kin, fnt, op=.2] (f98) at (794,868) {};
  \node[mg, g={38}{40}{9.5}, op=.8, bd] (TP53) at (620,876) {TP53\\40.3};
  \node[kin, g={48}{36}{10}, op=.75] (MELK) at (844,844) {MELK\\41.0};
  \node[kin, g={48}{38}{10}, op=.75, bd] (CLK1) at (896,846) {CLK1\\46.6};
  \node[kin, g={46}{38}{10}, op=.8] (CLK2) at (948,844) {CLK2\\54.2};
  \node[kin, g={56}{28}{7}, op=.5] (EIF2AK2) at (793,906) {EIF2AK2\\16.2};
  \node[kin, g={42}{22}{5.5}, op=.35] (DYRK1B) at (856,904) {DYRK1B\\6.2};
  \node[kin, g={34}{30}{7}, op=.5] (CLK4) at (943,902) {CLK4\\15.2};
  \node[kin, g={60}{34}{9}, op=.65] (CAMK2G) at (646,923) {CAMK2G\\27.3};
  \node[kin, g={52}{28}{7.5}, op=.5] (CAMK2D) at (724,923) {CAMK2D\\13.8};
  \node[kin, fnt] (f99) at (683,941) {};
  \node[kin, g={60}{36}{10}, op=.75] (CDK11A) at (799,952) {CDK11A\\40.8};
  \node[kin, g={56}{36}{10}, op=.75] (CDK11B) at (875,952) {CDK11B\\43.1};
  \node[mg, g={32}{30}{7}, op=.55] (HTT) at (937,942) {HTT\\18.8};
  \node[kin, g={34}{26}{6.5}, op=.5] (STK4) at (982,917) {STK4\\13.0};
  \node[kin, g={36}{30}{7.5}, op=.6] (STK3) at (980,961) {STK3\\19.2};
  \node[kin, fnt, op=.2] (f100) at (1016,920) {};
  \node[kin, fnt, op=.2] (f101) at (1014,963) {};
  \node[kin, g={64}{36}{10}, op=.75] (MAPK13) at (646,980) {MAPK13\\40.5};
  \node[kin, g={46}{26}{6}, op=.4] (MAPK12) at (708,981) {MAPK12\\9.2};
  \node[rd, g={54}{44}{12}, op=.85, bd] (GART) at (771,1004) {GART\\70.2};
  \node[rd, g={50}{46}{13}, op=.9] (ATIC) at (827,1004) {ATIC\\106.4};
  \node[rd, g={72}{52}{15}, bd] (FKBP1A) at (908,1006) {FKBP1A\\201.0};
  \node[rd, g={46}{32}{8}, op=.6] (CASP3) at (636,1031) {CASP3\\24.1};
  \node[rd, g={44}{32}{8}, op=.6] (CASP7) at (686,1031) {CASP7\\18.5};
  \node[mg, g={38}{26}{5.5}, op=.4] (PIK3R1) at (740,1049) {PIK3R1\\9.0};
  \node[mg, g={48}{32}{8}, op=.55] (PIK3R2) at (790,1049) {PIK3R2\\19.8};
  \node[kin, fnt] (f102) at (620,1068) {};
  \node[kin, g={40}{32}{8}, op=.6] (PRKD2) at (666,1076) {PRKD2\\25.6};
  \node[kin, g={72}{44}{13}, op=.85, bd] (AURKA) at (860,1068) {AURKA\\91.1};
  \node[rd, g={36}{36}{8.5}, op=.7] (USP1) at (930,1063) {USP1\\31.3};
  \node[rd, fnt] (f103) at (768,1085) {};
  \node[rd, g={60}{48}{14}, op=.9, bd] (TYMS) at (733,1101) {TYMS\\100.4};
  \node[kin, g={56}{30}{8}, op=.55] (DYRK1A) at (639,1121) {DYRK1A\\21.8};
  \node[kin, g={60}{34}{8.5}, op=.65, bd] (MAPK14) at (808,1121) {MAPK14\\27.5};
  \node[rd, g={48}{42}{11}, op=.8] (FEN1) at (876,1121) {FEN1\\66.4};
  \node[kin, g={46}{34}{9}, op=.7] (MAPK9) at (936,1107) {MAPK9\\34.7};
  \node[kin, g={44}{30}{8}, op=.6] (CHEK2) at (634,1161) {CHEK2\\20.2};
  \node[rd, g={50}{40}{10}, op=.75, bd] (DHFR) at (705,1159) {DHFR\\41.2};
  \node[kin, g={46}{30}{7.5}, op=.55] (MST1R) at (767,1162) {MST1R\\18.2};
  \node[kin, g={48}{30}{7.5}, op=.6] (PDPK1) at (822,1167) {PDPK1\\20.7};
  \node[pk, g={42}{30}{7.5}, op=.65, bd] (RARA) at (879,1168) {RARA\\18.9};
  \node[pl, g={40}{34}{8}, op=.75, bd] (PRPF4) at (933,1159) {PRPF4\\27.6};
  \node[kin, g={36}{22}{5}, op=.35] (ACVR1) at (629,1199) {ACVR1\\6.9};
  \node[kin, g={34}{24}{5.5}, op=.4, bd] (BRAF) at (674,1197) {BRAF\\9.2};
  \node[pl, fnt, op=.25, minimum width=36, minimum height=24] (f104) at (721,1197) {};
  \node[mg, g={32}{26}{5.5}, op=.45] (ATF6) at (765,1199) {ATF6\\12.0};
  \node[kin, g={32}{24}{5}, op=.35] (PIM1) at (810,1201) {PIM1\\7.9};
  \node[kin, g={34}{22}{5}, op=.3] (PRKX) at (859,1203) {PRKX\\5.9};
  \node[kin, fnt, op=.2] (f105) at (898,1197) {};
  \node[kin, g={38}{24}{5.5}, op=.4] (MAPK15) at (931,1200) {MAPK15\\9.3};

  % bottom right block
  \node[gene, fill=hubC, g={90}{70}{22}, bd] (RPL3) at (1053,867) {RPL3\\1455.2};
  \node[rd, g={56}{50}{14}] (IDH2) at (1138,889) {IDH2\\157.5};
  \node[kin, g={48}{28}{6.5}, op=.45] (MAP2K4) at (1204,897) {MAP2K4\\12.4};
  \node[rd, g={74}{42}{13}, op=.9] (DNMT1) at (1114,947) {DNMT1\\110.4};
  \node[rd, g={42}{40}{10}, op=.75] (LIG1) at (1184,981) {LIG1\\53.0};
  \node[kin, g={44}{34}{8}, op=.65] (TESK1) at (982,1002) {TESK1\\24.6};
  \node[kin, g={56}{40}{10.5}, op=.75] (LIMK2) at (1043,1002) {LIMK2\\46.7};
  \node[kin, g={70}{40}{11}, op=.8] (PIP5K1A) at (1118,1002) {PIP5K1A\\50.6};
  \node[kin, g={48}{32}{8}, op=.6, bd] (FGFR1) at (1186,1029) {FGFR1\\25.4};
  \node[mg, g={88}{44}{13}, op=.8] (RACGAP1) at (1006,1057) {RACGAP1\\83.0};
  \node[rd, g={82}{44}{13}, op=.85] (TXNRD1) at (1107,1057) {TXNRD1\\101.7};
  \node[mg, g={50}{36}{10}, op=.7] (STAT6) at (1183,1082) {STAT6\\42.5};
  \node[mg, g={62}{40}{11}, op=.8, bd] (VEGFA) at (1010,1112) {VEGFA\\53.3};
  \node[mg, g={62}{38}{10.5}, op=.7] (NFE2L2) at (1084,1112) {NFE2L2\\44.4};
  \node[kin, g={54}{32}{8.5}, op=.65] (MAPK8) at (1155,1127) {MAPK8\\29.0};
  \node[pk, g={34}{28}{6}, op=.5, bd] (NR3C1) at (1214,1132) {NR3C1\\10.8};
  \node[rd, g={50}{36}{9.5}, op=.7] (PARP6) at (993,1159) {PARP6\\31.3};
  \node[kin, g={46}{32}{8}, op=.65] (LIMK1) at (1054,1156) {LIMK1\\21.6};
  \node[pl, g={50}{30}{7.5}, op=.7] (NCOA3) at (1112,1167) {NCOA3\\18.8};
  \node[mg, g={46}{30}{7.5}, op=.55] (RAD51) at (1168,1167) {RAD51\\18.6};
  \node[kin, fnt, op=.2] (f106) at (1210,1170) {};
  \node[pk, fnt, op=.25, minimum width=36, minimum height=24] (f107) at (982,1202) {};
  \node[kin, g={40}{28}{6.5}, op=.5] (RIPK1) at (1045,1197) {RIPK1\\12.6};
  \node[mg, fnt, op=.25, minimum width=34, minimum height=24] (f108) at (1095,1207) {};
  \node[kin, g={28}{22}{5}, op=.35] (NEK3) at (1143,1205) {NEK3\\3.9};
  \node[rd, g={30}{24}{5.5}, op=.45, bd] (ADA) at (1182,1203) {ADA\\7.9};

  % faint bottom row
  \node[kin, fnt, op=.08] (f109) at (60,1222) {};
  \node[kin, fnt, op=.08] (f110) at (170,1222) {};
  \node[kin, fnt, op=.15] (f111) at (230,1222) {};
  \node[kin, fnt, op=.08] (f112) at (470,1222) {};
  \node[kin, fnt, op=.08] (f113) at (700,1222) {};
  \node[mg, fnt, op=.15] (f114) at (900,1224) {};
  \node[lb, fnt] (f115) at (1210,1010) {};

  % connectors
  \begin{scope}[on background layer]
    % casein kinase hub
    \draw[e3] (CSNK1G1) -- (CSNK1G3);
    \draw[e3] (CSNK1G1) -- (CSNK1G2);
    \draw[e3] (CSNK1G1) -- (STK38);
    \draw[e3] (CSNK1G3) -- (CSNK1G2);
    \draw[e3] (STK38L) -- (STK38);
    \draw[e3] (STK38L) -- (TNIK);
    \draw[e3] (STK38) -- (TNIK);
    \draw[e2] (CSNK1G1) -- (TNIK);
    \draw[e2] (CSNK1G2) -- (TNIK);
    \draw[e2] (CSNK1G2) -- (STK38L);
    \draw[e2] (CSNK1G3) -- (STK38L);
    \draw[e1] (CSNK1G1) -- (CSNK1D);
    \draw[e1] (CSNK1G1) to[bend right=8] (CSNK1E);
    \draw[e1] (CSNK1G1) -- (STK38L);
    \draw[e1] (CSNK1G3) -- (STK38);
    \draw[e1] (CSNK1G3) -- (TNIK);
    \draw[e1] (CSNK1G2) -- (STK38);
    \draw[e1] (CSNK1D) -- (TNIK);
    \draw[e1] (TNIK) -- (TLK2);
    \draw[e1] (TNIK) -- (STK17A);
    \draw[e1] (TNIK) -- (ICK);
    \draw[e1] (STK38) -- (ICK);
    \draw[e1] (STK38) -- (TLK2);
    \draw[e1] (ICK) -- (f60);
    \draw[e1] (STK38) -- (f60);
    \draw[e3] (TLK2) -- (TLK1);
    \draw[e3] (STK17B) -- (STK17A);
    \draw[e1] (IGF1R) -- (INSR);
    \draw[e2] (BLM) -- (WRN);
    \draw[e2] (TNKS2) -- (TNKS);
    % proteasome
    \draw[e3] (PSMB5) -- (PSMB1);
    \draw[e3] (PSMB5) -- (PSMB2);
    \draw[e3] (PSMB1) -- (PSMB2);
    \draw[e2] (PSMB5) -- (PSMB8);
    \draw[e2] (PSMB8) -- (PSMB2);
    \draw[e1] (PSMB8) -- (PSMD1);
    % MAP4K group
    \draw[e1] (STK24) -- (STK25);
    \draw[e1] (STK24) -- (MAP4K3);
    \draw[e3] (MAP4K3) -- (MAP4K5);
    \draw[e3] (MAP4K5) -- (MINK1);
    \draw[e2] (MAP4K3) -- (MINK1);
    \draw[e2] (MAP4K5) -- (MAP4K2);
    \draw[e2] (MINK1) -- (MAP4K2);
    \draw[e1] (MAP4K3) -- (MAP4K2);
    \draw[e1] (MAP4K4) -- (MAP4K3);
    \draw[e2] (MAP3K2) -- (MAP2K3);
    \draw[e1] (MAP3K2) -- (MAP4K2);
    \draw[e2] (MAP2K3) -- (MAP3K3);
    \draw[e1] (MAP4K5) -- (MAP3K3);
    \draw[e1] (MINK1) -- (MAP3K3);
    \draw[e1] (MAP4K5) -- (MAP3K4);
    \draw[e1] (STK10) -- (MAP4K5);
    \draw[e2] (SLK) to[bend left=12] (STK10);
    \draw[e1] (f30) -- (MAP4K3);
    \draw[e1] (f30) -- (STK24);
    \draw[e1] (f30) -- (MINK1);
    \draw[e1] (MAP2K3) -- (f77);
    \draw[e2] (IKBKE) -- (TBK1);
    \draw[e1] (MAP3K9) -- (MAP3K10);
    \draw[e1] (MAP3K9) to[bend left=12] (MAP3K11);
    \draw[e1] (MAP3K10) -- (MAP3K11);
    \draw[e2] (SLC19A1) -- (SLC6A1);
    \draw[e2] (PRKACB) -- (PRKACA);
    \draw[e2] (TAOK3) -- (TAOK1);
    % HDAC group
    \draw[e3] (HDAC1) -- (HDAC2);
    \draw[e1] (HDAC1) -- (HDAC3);
    \draw[e1] (HDAC2) -- (HDAC3);
    \draw[e2] (HDAC3) -- (HDAC10);
    \draw[e1] (HDAC3) -- (HDAC11);
    \draw[e1] (HDAC1) -- (HDAC10);
    \draw[e2] (HDAC10) -- (HDAC11);
    \draw[e2] (HDAC11) -- (HDAC8);
    \draw[e3] (HDAC3) -- (HDAC8);
    \draw[e3] (HDAC4) -- (HDAC5);
    \draw[e1] (HDAC4) -- (HDAC3);
    \draw[e3] (HDAC5) -- (f68);
    \draw[e1] (HDAC7) -- (HDAC5);
    \draw[e1] (HDAC7) -- (f68);
    \draw[e1] (HDAC2) -- (HDAC7);
    \draw[e1] (HDAC4) to[bend right=20] (f68);
    \draw[e2] (PHKG2) -- (f72);
    % small pairs, upper half
    \draw[e3] (MAP2K2) -- (MAP2K1);
    \draw[e2] (PAK2) -- (PAK1);
    \draw[e2] (MAP3K12) -- (MAP3K13);
    \draw[e2] (CBFB) -- (RUNX1);
    \draw[e2] (PARP2) -- (PARP3);
    \draw[e2] (POLK) -- (POLI);
    \draw[e2] (POLI) -- (POLH);
    \draw[e1] (POLH) -- (POLK);
    \draw[e2] (HIPK1) -- (HIPK2);
    \draw[e1] (HIPK1) -- (HIPK3);
    \draw[e1] (HIPK2) -- (HIPK3);
    \draw[e2] (CDK6) -- (CDK3);
    \draw[e2] (CDK6) -- (CDK19);
    \draw[e1] (CDK3) -- (CDK19);
    \draw[e1] (CDK6) -- (f28);
    \draw[e2] (CDK3) -- (f28);
    \draw[e1] (FGFR2) -- (FGFR3);
    \draw[e1] (FGFR2) -- (FGFR4);
    \draw[e2] (CDC42BPA) -- (CDC42BPG);
    \draw[e1] (CDC42BPB) -- (CDC42BPA);
    \draw[e1] (CDK16) -- (CDK17);
    \draw[e3] (CDK17) -- (CDK18);
    \draw[e1] (CDK16) -- (CDK18);
    \draw[e3] (TYK2) -- (JAK1);
    \draw[e1] (ACVR1B) -- (TGFBR1);
    \draw[e1] (NFKB2) -- (RELA);
    \draw[e1] (RELA) -- (NFKB1);
    \draw[e2] (SIK1) -- (SIK2);
    \draw[e1] (SIK2) -- (SIK3);
    \draw[e1] (SIK1) -- (SIK3);
    \draw[e3] (PRKAA1) -- (f8);
    \draw[e3] (PLD2) -- (f14);
    \draw[e1] (PPARD) -- (f13);
    \draw[e2] (CA12) -- (f16);
    \draw[e2] (CA12) -- (f17);
    \draw[e3] (CA12) -- (f20);
    \draw[e2] (f19) -- (f20);
    \draw[e1] (f18) -- (f19);
    \draw[e1] (ULK3) -- (f12);
    \draw[e3] (MARK3) -- (f21);
    \draw[e1] (MARK2) -- (f21);
    \draw[e1] (MARK3) -- (MARK2);
    \draw[e1] (f15) -- (f21);
    \draw[e2] (f15) -- (f22);
    \draw[e3] (EPHB4) -- (f24);
    \draw[e2] (f24) -- (f25);
    \draw[e2] (EPHB4) -- (EPHA1);
    \draw[e2] (EPHB4) -- (EPHB3);
    \draw[e1] (EPHB4) -- (f52);
    \draw[e1] (EPHB4) -- (f53);
    \draw[e1] (EPHB4) -- (f51);
    \draw[e1] (EPHA1) -- (f59);
    \draw[e1] (DAPK2) -- (DAPK1);
    \draw[e1] (RXRB) -- (RXRA);
    \draw[e2] (RXRA) -- (RARG);
    \draw[e3] (RARG) -- (f50);
    \draw[e1] (RXRB) -- (f50);
    \draw[e1] (f49) -- (RARG);
    \draw[e3] (PIK3CA) -- (PIK3CB);
    \draw[e3] (PIK3CB) -- (f40);
    % small pairs, lower half
    \draw[e3] (CCNH) -- (MNAT1);
    \draw[e1] (CCNH) -- (CCNT1);
    \draw[e1] (CCNT1) -- (CDK9);
    \draw[e1] (CSNK2A2) -- (CSNK2A1);
    \draw[e1] (f54) -- (f55);
    \draw[e1] (RPS6KA1) -- (RPS6KA3);
    \draw[e3] (RPS6KA1) -- (RPS6KA2);
    \draw[e1] (RPS6KA3) -- (RPS6KA2);
    \draw[e1] (f57) -- (RPS6KA2);
    \draw[e1] (RPS6KA1) -- (f56);
    \draw[e3] (CCND1) -- (CCND3);
    \draw[e1] (CCND3) -- (CCNE1);
    \draw[e1] (CCNB1) -- (CCNE1);
    \draw[e1] (CCNA2) -- (f58);
    \draw[e3] (SRPK1) -- (SRPK2);
    \draw[e2] (SRPK1) -- (PRPF4B);
    \draw[e1] (SRPK2) -- (PRPF4B);
    \draw[e2] (SRPK2) -- (f70);
    \draw[e1] (SRPK1) -- (f70);
    \draw[e1] (SRPK1) -- (f71);
    \draw[e1] (BMP2K) -- (f98);
    \draw[e2] (CAMK2G) -- (CAMK2D);
    \draw[e1] (CAMK2G) -- (f99);
    \draw[e2] (MELK) -- (CLK1);
    \draw[e1] (CLK1) -- (CLK4);
    \draw[e2] (CLK2) -- (CLK4);
    \draw[e1] (DYRK1B) -- (CLK4);
    \draw[e3] (STK4) -- (STK3);
    \draw[e1] (STK3) -- (f101);
    \draw[e1] (STK4) -- (f100);
    \draw[e1] (f100) -- (f101);
    \draw[e3] (CDK11A) -- (CDK11B);
    \draw[e2] (MAPK13) -- (MAPK12);
    \draw[e2] (GART) -- (ATIC);
    \draw[e2] (CASP3) -- (CASP7);
    \draw[e2] (PIK3R1) -- (PIK3R2);
    \draw[e2] (PRKD2) -- (f102);
    \draw[e2] (TESK1) -- (LIMK2);
    \draw[e2] (BCL2L1) -- (BCL2L2);
    \draw[e1] (GSK3B) -- (GSK3A);
    \draw[e3] (IFNAR2) -- (IFNAR1);
    \draw[e3] (VEGFB) -- (f95);
    \draw[e2] (PARP12) -- (TIPARP);
    \draw[e3] (RPS6KA4) -- (f86);
    \draw[e2] (MAPK3) -- (MAPK1);
    \draw[e2] (PAK4) -- (f85);
    \draw[e2] (DDR1) -- (f80);
    \draw[e2] (MKNK2) -- (MKNK1);
    \draw[e2] (STK39) -- (OXSR1);
    \draw[e2] (PKN2) -- (PKN1);
    \draw[e2] (f89) -- (f88);
    \draw[e1] (f89) -- (f90);
  \end{scope}
\end{tikzpicture}
\end{document}
